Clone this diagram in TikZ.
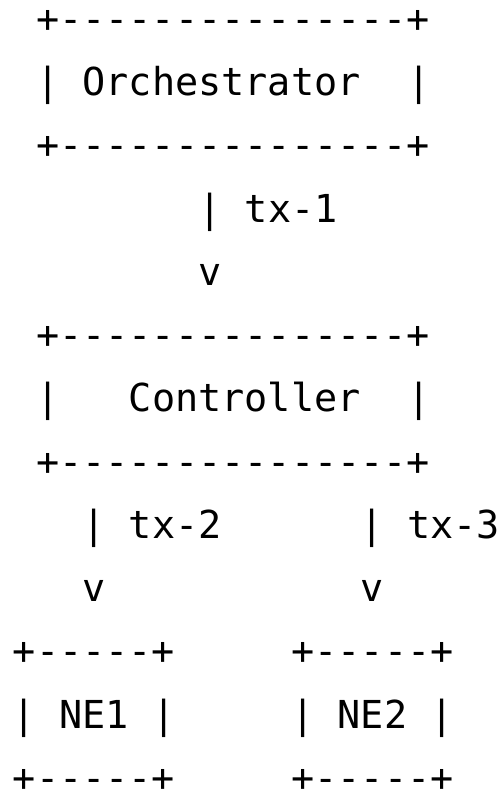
\documentclass[tikz,border=0pt]{standalone}
\usepackage{fontspec}
\setmonofont{DejaVu Sans Mono}
\begin{document}
\begin{tikzpicture}[x=1pt,y=1pt,
  asc/.style={anchor=base west, inner sep=0pt, outer sep=0pt, text=black,
    font=\ttfamily\fontsize{38.5}{46}\selectfont}]
\useasboundingbox (0,0) rectangle (501,-792);
\newcommand\asciiat[4]{\node[asc] (#1) at ({12.9+23.2*#2},{-32.3-63.25*#3}) {#4};}
% Orchestrator box
\asciiat{orchTop}{1}{0}{+---------------+}
\asciiat{orchL}{1}{1}{|}
\asciiat{orch}{3}{1}{Orchestrator}
\asciiat{orchR}{17}{1}{|}
\asciiat{orchBot}{1}{2}{+---------------+}
% tx-1
\asciiat{txOneBar}{8}{3}{|}
\asciiat{txOne}{10}{3}{tx-1}
\asciiat{txOneV}{8}{4}{v}
% Controller box
\asciiat{ctrlTop}{1}{5}{+---------------+}
\asciiat{ctrlL}{1}{6}{|}
\asciiat{ctrl}{5}{6}{Controller}
\asciiat{ctrlR}{17}{6}{|}
\asciiat{ctrlBot}{1}{7}{+---------------+}
% tx-2 and tx-3
\asciiat{txTwoBar}{3}{8}{|}
\asciiat{txTwo}{5}{8}{tx-2}
\asciiat{txThreeBar}{15}{8}{|}
\asciiat{txThree}{17}{8}{tx-3}
\asciiat{txTwoV}{3}{9}{v}
\asciiat{txThreeV}{15}{9}{v}
% NE1 box
\asciiat{neOneTop}{0}{10}{+-----+}
\asciiat{neOneL}{0}{11}{|}
\asciiat{neOne}{2}{11}{NE1}
\asciiat{neOneR}{6}{11}{|}
\asciiat{neOneBot}{0}{12}{+-----+}
% NE2 box
\asciiat{neTwoTop}{12}{10}{+-----+}
\asciiat{neTwoL}{12}{11}{|}
\asciiat{neTwo}{14}{11}{NE2}
\asciiat{neTwoR}{18}{11}{|}
\asciiat{neTwoBot}{12}{12}{+-----+}
\end{tikzpicture}
\end{document}
